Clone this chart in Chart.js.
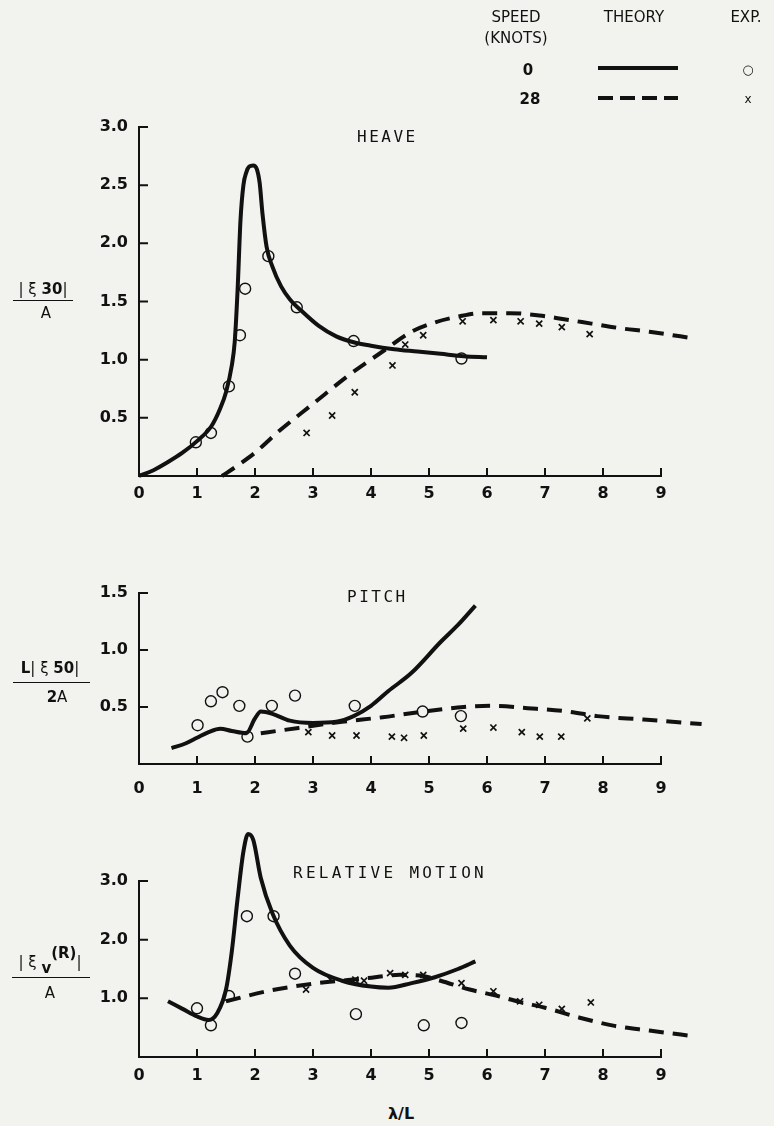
<!DOCTYPE html>
<html>
<head>
<meta charset="utf-8">
<script src="https://cdn.jsdelivr.net/npm/chart.js@4.4.1/dist/chart.umd.min.js"></script>
<style>
  html, body { margin: 0; padding: 0; background: #f2f2ef; }
  #page { position: relative; width: 774px; height: 1126px; overflow: hidden; color: #111; font-family: "DejaVu Sans", sans-serif; }
  canvas { position: absolute; left: 0; }
  .t { position: absolute; transform: translate(-50%, -50%); white-space: nowrap; }
  .title { font-family: "DejaVu Sans Mono", monospace; font-size: 16px; letter-spacing: 2.5px; }
  .leg { font-size: 15px; }
  .num { font-size: 15px; }
  .bar { position: absolute; height: 0; border-top: 1.5px solid #111; }
  .legline { position: absolute; width: 80px; height: 0; border-top: 4px solid #111; }
</style>
</head>
<body>
<div id="page">
  <canvas id="heave" width="774" height="520" style="top:0"></canvas>
  <canvas id="pitch" width="774" height="270" style="top:540px"></canvas>
  <canvas id="rel" width="774" height="270" style="top:820px"></canvas>

  <!-- legend block -->
  <div class="t leg" style="left:516px; top:17px">SPEED</div>
  <div class="t leg" style="left:516px; top:38px">(KNOTS)</div>
  <div class="t leg" style="left:634px; top:17px">THEORY</div>
  <div class="t leg" style="left:746px; top:17px">EXP.</div>
  <div class="t leg" style="left:528px; top:70px; font-weight:bold">0</div>
  <div class="t leg" style="left:530px; top:99px; font-weight:bold">28</div>
  <div class="legline" style="left:598px; top:66px"></div>
  <div class="legline" style="left:598px; top:96px; border-top-style:none; background:repeating-linear-gradient(90deg,#111 0 15px,transparent 15px 22px); height:4px"></div>
  <div class="t leg" style="left:748px; top:69px; font-size:13px">○</div>
  <div class="t leg" style="left:748px; top:99px; font-size:12px">x</div>

  <!-- panel titles -->
  <div class="title" style="position:absolute; left:357px; top:127px">HEAVE</div>
  <div class="title" style="position:absolute; left:347px; top:587px">PITCH</div>
  <div class="title" style="position:absolute; left:293px; top:863px; letter-spacing:3.3px">RELATIVE MOTION</div>

  <!-- y-axis fractions -->
  <div class="t num" style="left:43px; top:289px">| ξ <b>30</b>|</div>
  <div class="bar" style="left:13px; top:300px; width:60px"></div>
  <div class="t num" style="left:46px; top:313px">A</div>

  <div class="t num" style="left:50px; top:668px"><b>L</b>| ξ <b>50</b>|</div>
  <div class="bar" style="left:13px; top:682px; width:77px"></div>
  <div class="t num" style="left:57px; top:697px"><b>2</b>A</div>

  <div class="t num" style="left:50px; top:962px">| ξ <b style="position:relative; top:6px">v</b><b style="position:relative; top:-9px">(R)</b>|</div>
  <div class="bar" style="left:12px; top:977px; width:78px"></div>
  <div class="t num" style="left:50px; top:993px">A</div>

  <div class="t" style="left:401px; top:1113px; font-size:16px; font-weight:bold">λ/L</div>
</div>

<script>
const INK = '#111';

// shared axis ticks
const xTicks = [0, 1, 2, 3, 4, 5, 6, 7, 8, 9];
const heaveYTicks = [0.5, 1.0, 1.5, 2.0, 2.5, 3.0];
const pitchYTicks = [0.5, 1.0, 1.5];
const relYTicks = [1.0, 2.0, 3.0];

// HEAVE
const heave0X = [0, 0.25, 0.5, 0.75, 1.0, 1.25, 1.4, 1.5, 1.6, 1.65, 1.7, 1.75, 1.8, 1.85, 1.9, 1.97, 2.03, 2.08, 2.13, 2.2, 2.3, 2.45, 2.6, 2.8, 3.1, 3.4, 3.7, 4.0, 4.4, 4.8, 5.2, 5.6, 6.0];
const heave0Y = [0, 0.05, 0.12, 0.2, 0.3, 0.43, 0.58, 0.72, 0.95, 1.15, 1.6, 2.2, 2.5, 2.61, 2.66, 2.67, 2.64, 2.52, 2.25, 1.97, 1.8, 1.63, 1.52, 1.42, 1.29, 1.2, 1.15, 1.12, 1.09, 1.07, 1.05, 1.03, 1.02];
const heave28X = [1.43, 1.7, 2.0, 2.4, 3.0, 3.6, 4.2, 4.7, 5.1, 5.5, 5.9, 6.4, 6.9, 7.3, 7.8, 8.3, 8.8, 9.6];
const heave28Y = [0, 0.09, 0.2, 0.38, 0.62, 0.86, 1.07, 1.24, 1.32, 1.37, 1.4, 1.4, 1.38, 1.35, 1.31, 1.27, 1.24, 1.18];
const heaveExp0X = [0.98, 1.24, 1.55, 1.74, 1.83, 2.23, 2.72, 3.70, 5.56];
const heaveExp0Y = [0.29, 0.37, 0.77, 1.21, 1.61, 1.89, 1.45, 1.16, 1.01];
const heaveExp28X = [2.89, 3.33, 3.72, 4.37, 4.59, 4.90, 5.58, 6.11, 6.58, 6.90, 7.29, 7.77];
const heaveExp28Y = [0.37, 0.52, 0.72, 0.95, 1.13, 1.21, 1.33, 1.34, 1.33, 1.31, 1.28, 1.22];

// PITCH
const pitch0X = [0.56, 0.8, 1.0, 1.2, 1.4, 1.6, 1.85, 2.0, 2.1, 2.3, 2.6, 3.0, 3.4, 3.7, 4.0, 4.3, 4.7, 5.2, 5.5, 5.8];
const pitch0Y = [0.14, 0.18, 0.23, 0.28, 0.31, 0.29, 0.27, 0.40, 0.46, 0.44, 0.38, 0.36, 0.37, 0.42, 0.51, 0.64, 0.80, 1.07, 1.22, 1.39];
const pitch28X = [2.1, 2.8, 3.5, 4.2, 4.9, 5.6, 6.1, 6.7, 7.4, 7.9, 8.7, 9.7];
const pitch28Y = [0.27, 0.32, 0.37, 0.41, 0.46, 0.50, 0.51, 0.49, 0.46, 0.42, 0.39, 0.35];
const pitchExp0X = [1.01, 1.24, 1.44, 1.73, 1.87, 2.29, 2.69, 3.72, 4.89, 5.55];
const pitchExp0Y = [0.34, 0.55, 0.63, 0.51, 0.24, 0.51, 0.60, 0.51, 0.46, 0.42];
const pitchExp28X = [2.92, 3.33, 3.75, 4.36, 4.57, 4.91, 5.59, 6.11, 6.60, 6.91, 7.28, 7.73];
const pitchExp28Y = [0.28, 0.25, 0.25, 0.24, 0.23, 0.25, 0.31, 0.32, 0.28, 0.24, 0.24, 0.40];

// RELATIVE MOTION
const rel0X = [0.5, 0.75, 1.0, 1.2, 1.35, 1.5, 1.6, 1.7, 1.8, 1.88, 1.97, 2.1, 2.3, 2.6, 3.0, 3.5, 4.0, 4.3, 4.7, 5.1, 5.5, 5.8];
const rel0Y = [0.95, 0.82, 0.69, 0.63, 0.75, 1.15, 1.8, 2.7, 3.5, 3.8, 3.7, 3.05, 2.45, 1.9, 1.52, 1.3, 1.2, 1.18, 1.26, 1.36, 1.5, 1.63];
const rel28X = [1.5, 2.2, 3.0, 3.9, 4.5, 4.9, 5.2, 5.7, 6.1, 6.6, 7.0, 7.6, 8.2, 8.8, 9.6];
const rel28Y = [0.95, 1.12, 1.25, 1.34, 1.40, 1.38, 1.30, 1.15, 1.06, 0.93, 0.84, 0.67, 0.53, 0.45, 0.35];
const relExp0X = [1.0, 1.24, 1.55, 1.86, 2.32, 2.69, 3.74, 4.91, 5.56];
const relExp0Y = [0.83, 0.54, 1.04, 2.40, 2.40, 1.42, 0.73, 0.54, 0.58];
const relExp28X = [2.88, 3.3, 3.73, 3.88, 4.33, 4.59, 4.9, 5.56, 6.11, 6.57, 6.9, 7.29, 7.79];
const relExp28Y = [1.15, 1.32, 1.32, 1.30, 1.43, 1.40, 1.40, 1.26, 1.12, 0.95, 0.89, 0.82, 0.93];

Chart.defaults.font.family = 'DejaVu Sans';
Chart.defaults.color = INK;

const pts = (xs, ys) => xs.map((x, i) => ({ x: x, y: ys[i] }));

function theory(xs, ys, dashed) {
  return {
    data: pts(xs, ys),
    borderColor: INK,
    borderWidth: 4,
    borderDash: dashed ? [15, 9] : [],
    pointRadius: 0,
    cubicInterpolationMode: 'monotone',
    fill: false,
    clip: false
  };
}

function exp(xs, ys, style) {
  return {
    data: pts(xs, ys),
    showLine: false,
    pointStyle: style,
    pointRadius: style === 'circle' ? 5.5 : 4.3,
    borderColor: INK,
    borderWidth: style === 'circle' ? 1.4 : 1.7,
    backgroundColor: 'rgba(0,0,0,0)',
    clip: false
  };
}

// tick marks pointing into the plot, like the original
const inwardTicks = {
  id: 'inwardTicks',
  afterDraw(chart) {
    const { ctx, chartArea, scales } = chart;
    ctx.save();
    ctx.strokeStyle = INK;
    ctx.lineWidth = 2;
    ctx.beginPath();
    scales.x.ticks.forEach(t => {
      const px = scales.x.getPixelForValue(t.value);
      ctx.moveTo(px, chartArea.bottom);
      ctx.lineTo(px, chartArea.bottom - 8);
    });
    scales.y.ticks.forEach(t => {
      const py = scales.y.getPixelForValue(t.value);
      ctx.moveTo(chartArea.left, py);
      ctx.lineTo(chartArea.left + 9, py);
    });
    ctx.stroke();
    ctx.restore();
  }
};

function panel(id, yMax, yTicks, datasets, padTop, xHeight, xPad) {
  return new Chart(document.getElementById(id), {
    type: 'line',
    data: { datasets: datasets },
    options: {
      responsive: false,
      animation: false,
      layout: { padding: { top: padTop, right: 113, bottom: 0, left: 0 } },
      plugins: { legend: { display: false }, tooltip: { enabled: false } },
      scales: {
        x: {
          type: 'linear', min: 0, max: 9,
          afterBuildTicks: s => { s.ticks = xTicks.map(v => ({ value: v })); },
          afterFit: s => { s.height = xHeight; },
          grid: { display: false, drawTicks: false },
          border: { display: true, color: INK, width: 2 },
          ticks: { padding: xPad, color: INK, autoSkip: false, maxRotation: 0, font: { size: 16, weight: 'bold' }, callback: v => String(v) }
        },
        y: {
          type: 'linear', min: 0, max: yMax,
          afterBuildTicks: s => { s.ticks = yTicks.map(v => ({ value: v })); },
          afterFit: s => { s.width = 139; },
          grid: { display: false, drawTicks: false },
          border: { display: true, color: INK, width: 2 },
          ticks: { padding: 11, color: INK, autoSkip: false, font: { size: 16, weight: 'bold' }, callback: v => v.toFixed(1) }
        }
      }
    },
    plugins: [inwardTicks]
  });
}

panel('heave', 3.0, heaveYTicks, [
  theory(heave0X, heave0Y, false),
  theory(heave28X, heave28Y, true),
  exp(heaveExp0X, heaveExp0Y, 'circle'),
  exp(heaveExp28X, heaveExp28Y, 'crossRot')
], 127, 44, 8);

panel('pitch', 1.5, pitchYTicks, [
  theory(pitch0X, pitch0Y, false),
  theory(pitch28X, pitch28Y, true),
  exp(pitchExp0X, pitchExp0Y, 'circle'),
  exp(pitchExp28X, pitchExp28Y, 'crossRot')
], 53, 46, 15);

panel('rel', 3.0, relYTicks, [
  theory(rel0X, rel0Y, false),
  theory(rel28X, rel28Y, true),
  exp(relExp0X, relExp0Y, 'circle'),
  exp(relExp28X, relExp28Y, 'crossRot')
], 61, 33, 9);
</script>
</body>
</html>
